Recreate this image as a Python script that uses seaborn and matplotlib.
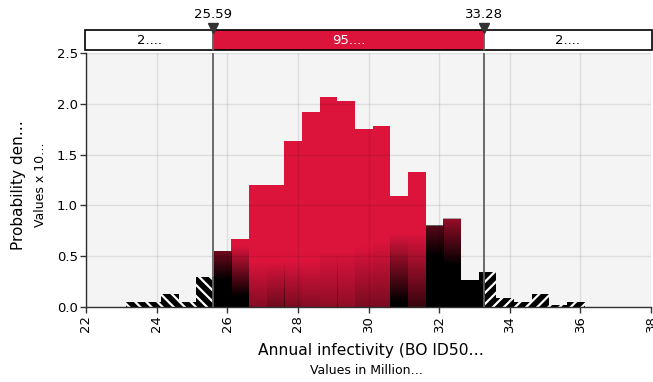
import numpy as np
import matplotlib
matplotlib.use("Agg")
import matplotlib.pyplot as plt
from matplotlib.patches import Rectangle
import seaborn as sns

# histogram of annual infectivity (values in millions), density x 10^-1
bin_edges = [23.12, 23.62, 24.12, 24.62, 25.12, 25.62, 26.12, 26.62, 27.12,
             27.62, 28.12, 28.62, 29.12, 29.62, 30.12, 30.62, 31.12, 31.62,
             32.12, 32.62, 33.12, 33.62, 34.12, 34.62, 35.12, 35.62, 36.12]
density = [0.05, 0.05, 0.13, 0.05, 0.30, 0.55, 0.67, 1.20, 1.20, 1.63, 1.92,
           2.07, 2.03, 1.75, 1.78, 1.09, 1.33, 0.80, 0.87, 0.26, 0.34, 0.09,
           0.05, 0.13, 0.015, 0.05]

# dark fade at the foot of each bar inside the 95% band
shade_top = [0, 0, 0, 0, 2.0, 0.83, 0.60, 0.45, 0.45, 0.45, 0.45, 0.55, 0.55,
             0.60, 0.65, 0.72, 0.72, 1.25, 1.08, 2.0, 2.0, 0, 0, 0, 0, 0]
shade_low = [0, 0, 0, 0, 1.0, 0.27, 0.10, 0.0, 0.0, 0.0, 0.0, 0.0, 0.0,
             0.0, 0.0, 0.05, 0.0, 0.50, 0.41, 1.0, 1.0, 0, 0, 0, 0, 0]
shade_max = [0, 0, 0, 0, 1.0, 1.0, 1.0, 0.40, 0.50, 0.45, 0.40, 0.35, 0.35,
             0.45, 0.45, 1.0, 0.75, 1.0, 1.0, 1.0, 1.0, 0, 0, 0, 0, 0]

lower, upper = 25.59, 33.28
band_labels = ["2....", "95....", "2...."]
x_ticks = [22, 24, 26, 28, 30, 32, 34, 36, 38]
y_ticks = [0.0, 0.5, 1.0, 1.5, 2.0, 2.5]

RED = "#dc143c"
W, H = 653, 382

sns.set_style("white", {"axes.facecolor": "#f4f4f4"})
plt.rcParams["font.family"] = ["DejaVu Sans"]
plt.rcParams["hatch.linewidth"] = 1.6
plt.rcParams["text.color"] = "black"
plt.rcParams["xtick.labelcolor"] = "black"
plt.rcParams["ytick.labelcolor"] = "black"

fig = plt.figure(figsize=(W / 100, H / 100), dpi=100)
ax = fig.add_axes([86 / W, 1 - 307 / H, 565 / W, 254 / H])

centers = [(a + b) / 2 for a, b in zip(bin_edges[:-1], bin_edges[1:])]


def layer(lo, hi, **kws):
    n0 = len(ax.patches)
    sns.histplot(x=centers, weights=density, bins=bin_edges, stat="count",
                 alpha=1, ax=ax, **kws)
    for p in ax.patches[n0:]:
        p.set_clip_path(Rectangle((lo, 0), hi - lo, 5, transform=ax.transData))


layer(20, lower, color="black", edgecolor="white", linewidth=0, hatch="\\\\\\")
layer(upper, 40, color="black", edgecolor="white", linewidth=0, hatch="///")
layer(lower, upper, color=RED, edgecolor=RED, linewidth=0)

for i, h in enumerate(density):
    if shade_max[i] == 0:
        continue
    x0 = max(bin_edges[i], lower)
    x1 = min(bin_edges[i + 1], upper)
    ys = np.linspace(0, h, 300)
    a = shade_max[i] * np.clip((shade_top[i] - ys) / (shade_top[i] - shade_low[i]), 0, 1)
    img = np.zeros((len(ys), 1, 4))
    img[:, 0, 3] = a
    ax.imshow(img, extent=(x0, x1, 0, h), origin="lower", aspect="auto",
              interpolation="bilinear", zorder=1.5)

ax.set_xlim(22, 38)
ax.set_ylim(0, 2.5)
ax.set_xticks(x_ticks)
ax.set_yticks(y_ticks)
ax.set_yticklabels([f"{v:.1f}" for v in y_ticks])
ax.set_axisbelow(False)
ax.grid(True, color="black", alpha=0.09, linewidth=1)
ax.set_xlabel("")
ax.set_ylabel("")
ax.tick_params(axis="x", labelrotation=90, length=4, width=1, color="#333333",
               labelsize=9.5, pad=2, bottom=True)
ax.tick_params(axis="y", length=4, width=1, color="#333333", labelsize=9.5,
               pad=2, left=True)
for side in ["top", "right"]:
    ax.spines[side].set_visible(False)
for side in ["left", "bottom"]:
    ax.spines[side].set_color("#333333")
    ax.spines[side].set_linewidth(1)

for v in (lower, upper):
    ax.axvline(v, color="#606060", linewidth=1.3, zorder=4)

# delimiter band above the plot
px = 16 / 565
bax = fig.add_axes([85 / W, 1 - 50 / H, 567 / W, 20 / H])
bax.set_xlim(22 - px, 38 + px)
bax.set_ylim(0, 1)
bax.axis("off")
bax.add_patch(Rectangle((22 - px, 0), lower - 22 + px, 1, facecolor="white",
                        edgecolor="none"))
bax.add_patch(Rectangle((lower, 0), upper - lower, 1, facecolor=RED,
                        edgecolor="none"))
bax.add_patch(Rectangle((upper, 0), 38 + px - upper, 1, facecolor="white",
                        edgecolor="none"))
bax.add_patch(Rectangle((22 - px, 0), 16 + 2 * px, 1, facecolor="none",
                        edgecolor="black", linewidth=1.2, clip_on=False))
mids = [(22 + lower) / 2, (lower + upper) / 2, (upper + 38) / 2]
for m, lab, c in zip(mids, band_labels, ["black", "white", "black"]):
    bax.text(m, 0.45, lab, ha="center", va="center", fontsize=9.5, color=c)
for v in (lower, upper):
    bax.plot([v, v], [0, 1.075], color="#606060", linewidth=1.3, clip_on=False)
    bax.plot([v], [1.075], marker="v", markersize=7, color="#333333",
             clip_on=False)
    bax.text(v, 1.45, f"{v:.2f}", ha="center", va="bottom", fontsize=9.5,
             clip_on=False)

fig.text(19 / W, 1 - 185 / H, "Probability den…", rotation=90, ha="center",
         va="center", fontsize=11)
fig.text(40 / W, 1 - 185 / H, "Values x 10…", rotation=90, ha="center",
         va="center", fontsize=9)
fig.text(371 / W, 1 - 350 / H, "Annual infectivity (BO ID50…", ha="center",
         va="center", fontsize=11.2)
fig.text(366 / W, 1 - 370 / H, "Values in Million…", ha="center",
         va="center", fontsize=9)

fig.savefig("out.png", dpi=100)
